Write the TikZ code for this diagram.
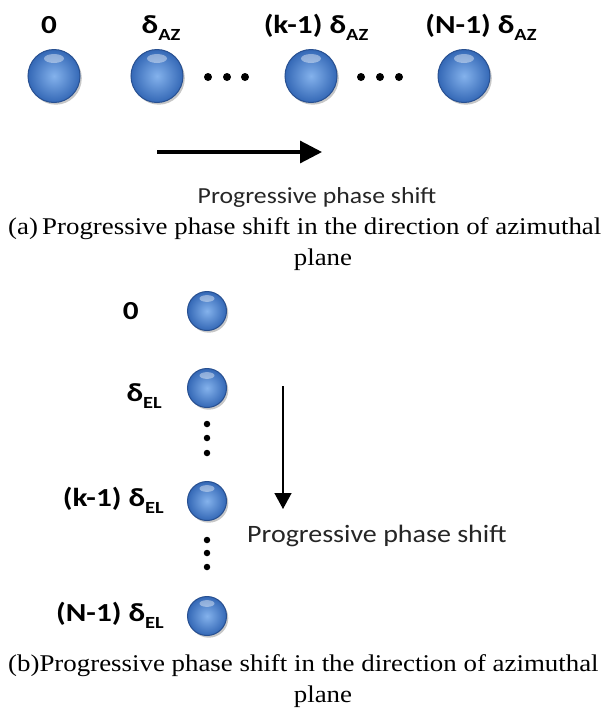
\documentclass[tikz,border=0pt]{standalone}
\usepackage{fontspec}
\setmainfont{Liberation Serif}[FakeStretch=1.12]
\newfontfamily\calfont{Carlito}[FakeStretch=1.12]
\newfontfamily\labfont{Carlito}[FakeStretch=1.2]
\usetikzlibrary{arrows.meta,shapes.geometric,shadows,calc}
\definecolor{balllight}{RGB}{132,178,236}
\definecolor{balldark}{RGB}{52,104,182}
\definecolor{ballborder}{RGB}{40,80,145}
\newcommand\subtxt[1]{\raisebox{-7pt}{\fontsize{17}{17}\selectfont #1}}
\tikzset{
  ballbase/.style={ellipse, draw=ballborder, line width=1pt, inner sep=0pt, outer sep=0pt,
    inner color=balllight, outer color=balldark,
    drop shadow={shadow xshift=1.8pt, shadow yshift=-2.2pt, fill=black, opacity=0.22}},
  bigball/.style={ballbase, minimum width=52pt, minimum height=53pt,
    path picture={\fill[white,opacity=0.4] ($(path picture bounding box.north)+(0pt,-9pt)$) ellipse [x radius=10pt, y radius=4.5pt];}},
  smallball/.style={ballbase, minimum width=39pt, minimum height=39pt,
    path picture={\fill[white,opacity=0.4] ($(path picture bounding box.north)+(0pt,-7pt)$) ellipse [x radius=7.5pt, y radius=3.4pt];}},
  lab/.style={font=\labfont\bfseries\fontsize{26}{30}\selectfont, inner sep=0pt},
  prog/.style={font=\calfont\fontsize{23}{27}\selectfont, inner sep=0pt, text=black!85},
  capt/.style={font=\fontsize{24}{28}\selectfont, inner sep=0pt},
  dotnode/.style={circle, fill=black, inner sep=0pt, minimum size=8pt},
  vdot/.style={circle, fill=black, inner sep=0pt, minimum size=6.5pt},
}
\begin{document}
\begin{tikzpicture}[x=1pt,y=-1pt]
\fill[white] (0,0) rectangle (612,713);
\useasboundingbox (0,0) rectangle (612,713);
% (a) horizontal array
\node[lab, anchor=base] (l0) at (49,33) {0};
\node[lab, anchor=base] (l1) at (161,33) {δ\subtxt{AZ}};
\node[lab, anchor=base] (lk) at (316,33) {(k-1) δ\subtxt{AZ}};
\node[lab, anchor=base] (lN) at (481,33) {(N-1) δ\subtxt{AZ}};
\node[bigball] (b0) at (54,76) {};
\node[bigball] (b1) at (157,76) {};
\node[bigball] (bk) at (311,76) {};
\node[bigball] (bN) at (464,76) {};
\foreach \x/\n in {208/d1,227/d2,245/d3,361/d4,380/d5,399/d6}
  \node[dotnode] (\n) at (\x,77) {};
\coordinate (ha) at (157,152);
\coordinate (hb) at (322,152);
\draw[line width=3.2pt, -{Triangle[length=22pt,width=22pt]}] (ha) -- (hb);
\node[prog, anchor=base] (pa) at (317,203) {Progressive phase shift};
\node[capt, anchor=base west] (ca) at (8,234) {(a)};
\node[capt, anchor=base west] (ca1) at (42,234) {Progressive phase shift in the direction of azimuthal};
\node[capt, anchor=base] (ca2) at (323,265) {plane};
% (b) vertical array
\node[lab, anchor=base east] (m0) at (139,319) {0};
\node[lab, anchor=base east] (m1) at (162,401) {δ\subtxt{EL}};
\node[lab, anchor=base east] (mk) at (164,506) {(k-1) δ\subtxt{EL}};
\node[lab, anchor=base east] (mN) at (164,621) {(N-1) δ\subtxt{EL}};
\node[smallball] (c0) at (207,311) {};
\node[smallball] (c1) at (207,388) {};
\node[smallball] (ck) at (207,501) {};
\node[smallball] (cN) at (207,616) {};
\foreach \y/\n in {424/e1,438/e2,453/e3,540/e4,553/e5,567/e6}
  \node[vdot] (\n) at (207,\y) {};
\coordinate (va) at (283,386);
\coordinate (vb) at (283,509);
\draw[line width=1.4pt, -{Triangle[length=16pt,width=17pt]}] (va) -- (vb);
\node[prog, anchor=base west, font=\calfont\fontsize{25}{29}\selectfont] (pb) at (247,542) {Progressive phase shift};
\node[capt, anchor=base west] (cb1) at (8,671) {(b)Progressive phase shift in the direction of azimuthal};
\node[capt, anchor=base] (cb2) at (323,702) {plane};
\end{tikzpicture}
\end{document}
